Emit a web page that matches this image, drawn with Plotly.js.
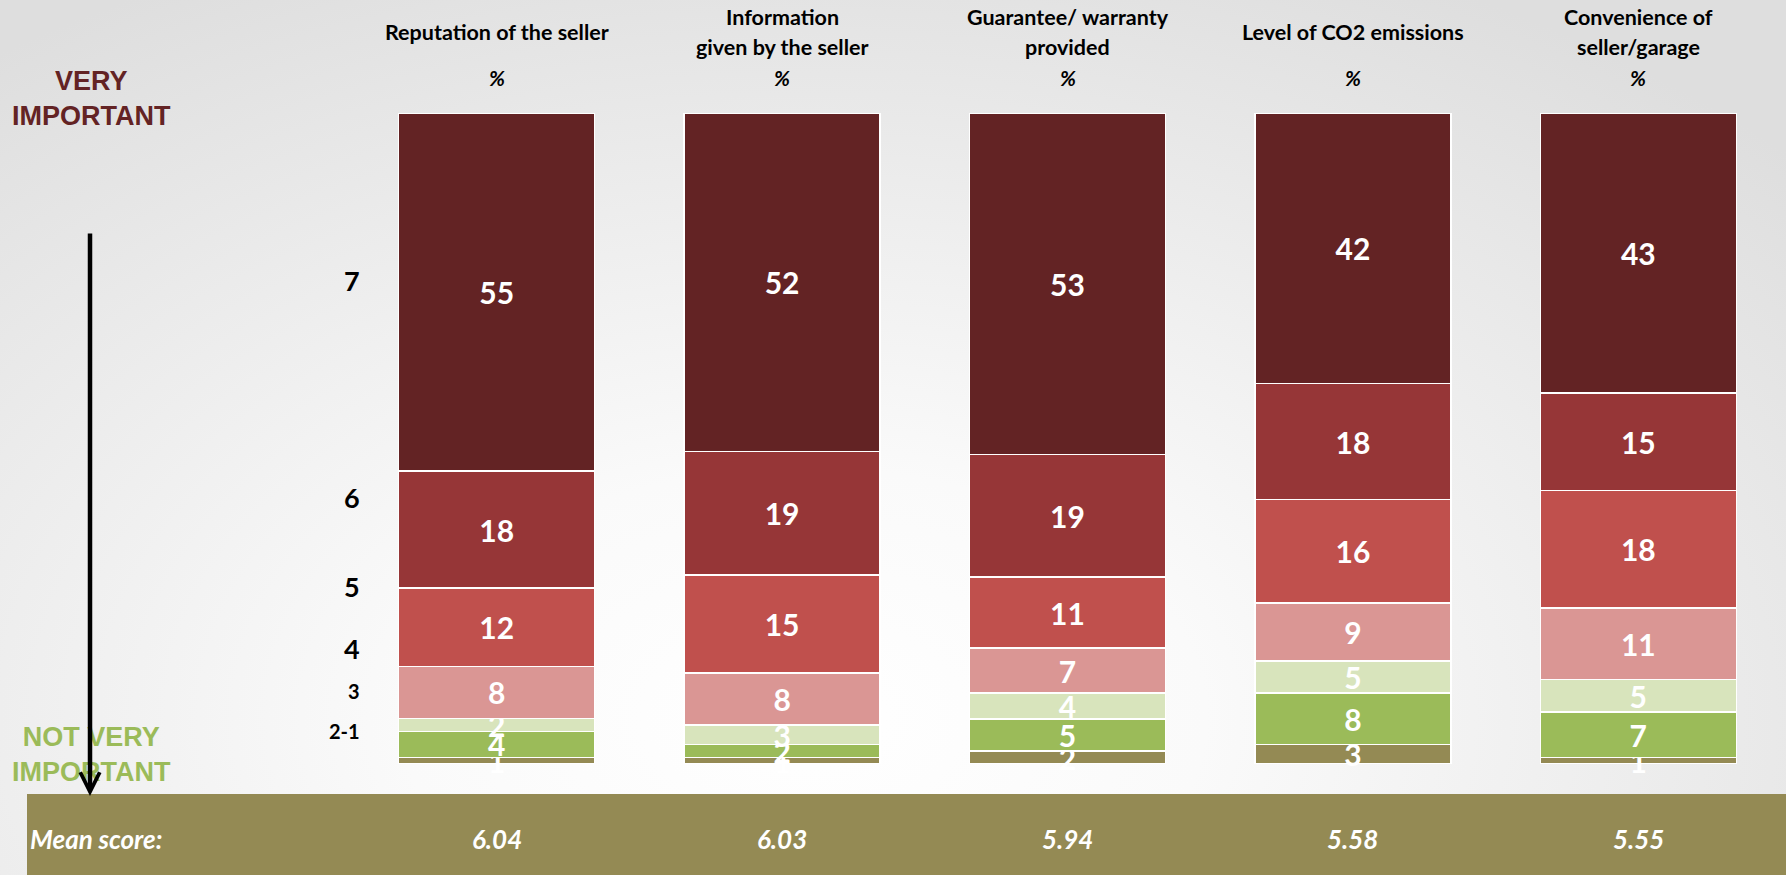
<!DOCTYPE html>
<html>
<head>
<meta charset="utf-8">
<script src="https://cdn.plot.ly/plotly-3.0.1.min.js"></script>
<style>
  html, body { margin: 0; padding: 0; }
  body {
    width: 1786px; height: 875px; overflow: hidden;
    background: radial-gradient(ellipse 75% 95% at 45% 82%, #ffffff 0%, #fafafa 30%, #ececec 65%, #dedede 100%);
  }
  #chart { width: 1786px; height: 875px; }
</style>
</head>
<body>
<div id="chart"></div>
<script>
// ---- data ----
const categories = ['Reputation of the seller', 'Information<br>given by the seller', 'Guarantee/ warranty<br>provided', 'Level of CO2 emissions', 'Convenience of<br>seller/garage'];
const levels = ['DK', '2-1', '3', '4', '5', '6', '7'];
const valsDK = [1, 1, 2, 3, 1];
const vals21 = [4, 2, 5, 8, 7];
const vals3  = [2, 3, 4, 5, 5];
const vals4  = [8, 8, 7, 9, 11];
const vals5  = [12, 15, 11, 16, 18];
const vals6  = [18, 19, 19, 18, 15];
const vals7  = [55, 52, 53, 42, 43];
const meanScores = ['6.04', '6.03', '5.94', '5.58', '5.55'];
const levelLabelY = [-1.1, 5.1, 11.2, 17.8, 27.2, 40.9, 74.3]; // vertical position of level labels (axis units)

// ---- styling ----
const colors = ['#948A54', '#9BBB59', '#D8E4BC', '#DA9694', '#C0504D', '#963637', '#632324'];
const series = [valsDK, vals21, vals3, vals4, vals5, vals6, vals7];
const FONT = 'Lato, "Open Sans", sans-serif';

const L = 354, R = 1781, T = 113, B = 764;
const px2x = p => (p - L) / (R - L);
const py2y = p => (B - p) / (B - T);

const traces = series.map((vals, i) => ({
  type: 'bar',
  name: levels[i],
  x: categories,
  y: vals,
  text: vals.map(String),
  texttemplate: '%{text}',
  textposition: 'inside',
  insidetextanchor: 'middle',
  textangle: 0,
  textfont: { family: FONT, size: 30, color: '#ffffff', weight: 'bold' },
  marker: { color: colors[i], line: { color: '#ffffff', width: 1.5 } },
  cliponaxis: false,
  hoverinfo: 'skip'
}));

const annotations = [];

// column headers
categories.forEach(c => {
  const lines = c.split('<br>');
  const ys = lines.length === 1 ? [32] : [17, 47];
  lines.forEach((ln, k) => {
    annotations.push({ xref: 'x', yref: 'paper', x: c, y: py2y(ys[k]), text: '<b>' + ln + '</b>',
      showarrow: false, xanchor: 'center', yanchor: 'middle',
      font: { family: FONT, size: 21.5, color: '#000000' } });
  });
  annotations.push({ xref: 'x', yref: 'paper', x: c, y: py2y(77), text: '<b><i>%</i></b>',
    showarrow: false, xanchor: 'center', yanchor: 'middle',
    font: { family: FONT, size: 21, color: '#000000' } });
});

// level labels
levels.forEach((lv, i) => {
  const big = ['4', '5', '6', '7'].includes(lv);
  annotations.push({ xref: 'paper', yref: 'y', x: px2x(362), y: levelLabelY[i], text: '<b>' + lv + '</b>',
    showarrow: false, xanchor: 'right', yanchor: 'middle',
    font: { family: FONT, size: big ? 27 : 20, color: '#000000' } });
});

// side labels
annotations.push({ xref: 'paper', yref: 'paper', x: px2x(91), y: py2y(98), text: '<b>VERY<br>IMPORTANT</b>',
  showarrow: false, xanchor: 'center', yanchor: 'middle', align: 'center',
  font: { family: 'Liberation Sans, Arial, sans-serif', size: 27, color: '#632324' } });
annotations.push({ xref: 'paper', yref: 'paper', x: px2x(91), y: py2y(754), text: '<b>NOT VERY<br>IMPORTANT</b>',
  showarrow: false, xanchor: 'center', yanchor: 'middle', align: 'center',
  font: { family: 'Liberation Sans, Arial, sans-serif', size: 27, color: '#9BBB59' } });

// arrow (drawn after text so it sits on top)
annotations.push({ xref: 'paper', yref: 'paper', x: px2x(90), y: py2y(796), text: '',
  showarrow: true, ax: 0, ay: -(796 - 232), axref: 'pixel', ayref: 'pixel',
  arrowhead: 5, arrowsize: 0.85, arrowwidth: 4.5, arrowcolor: '#000000', standoff: 0 });

// mean score row
annotations.push({ xref: 'paper', yref: 'paper', x: px2x(28), y: py2y(839), text: '<b><i>Mean score:</i></b>',
  showarrow: false, xanchor: 'left', yanchor: 'middle',
  font: { family: FONT, size: 26, color: '#ffffff' } });
categories.forEach((c, i) => {
  annotations.push({ xref: 'x', yref: 'paper', x: c, y: py2y(839), text: '<b><i>' + meanScores[i] + '</i></b>',
    showarrow: false, xanchor: 'center', yanchor: 'middle',
    font: { family: FONT, size: 26, color: '#ffffff' } });
});

const shapes = [
  { type: 'rect', xref: 'paper', yref: 'paper', x0: px2x(27), x1: px2x(1790), y0: py2y(880), y1: py2y(794),
    fillcolor: '#948A54', line: { width: 0 }, layer: 'below' }
];

const layout = {
  width: 1786, height: 875, autosize: false,
  margin: { l: L, r: 1786 - R, t: T, b: 875 - B, pad: 0 },
  paper_bgcolor: 'rgba(0,0,0,0)', plot_bgcolor: 'rgba(0,0,0,0)',
  barmode: 'stack', barnorm: 'percent', bargap: 0.313,
  showlegend: false,
  uniformtext: { mode: 'show', minsize: 30 },
  xaxis: { type: 'category', range: [-0.5, 4.5], visible: false, fixedrange: true },
  yaxis: { range: [0, 100], visible: false, fixedrange: true },
  annotations: annotations,
  shapes: shapes,
  font: { family: FONT }
};

Plotly.newPlot('chart', traces, layout, { staticPlot: true, displayModeBar: false });
</script>
</body>
</html>
